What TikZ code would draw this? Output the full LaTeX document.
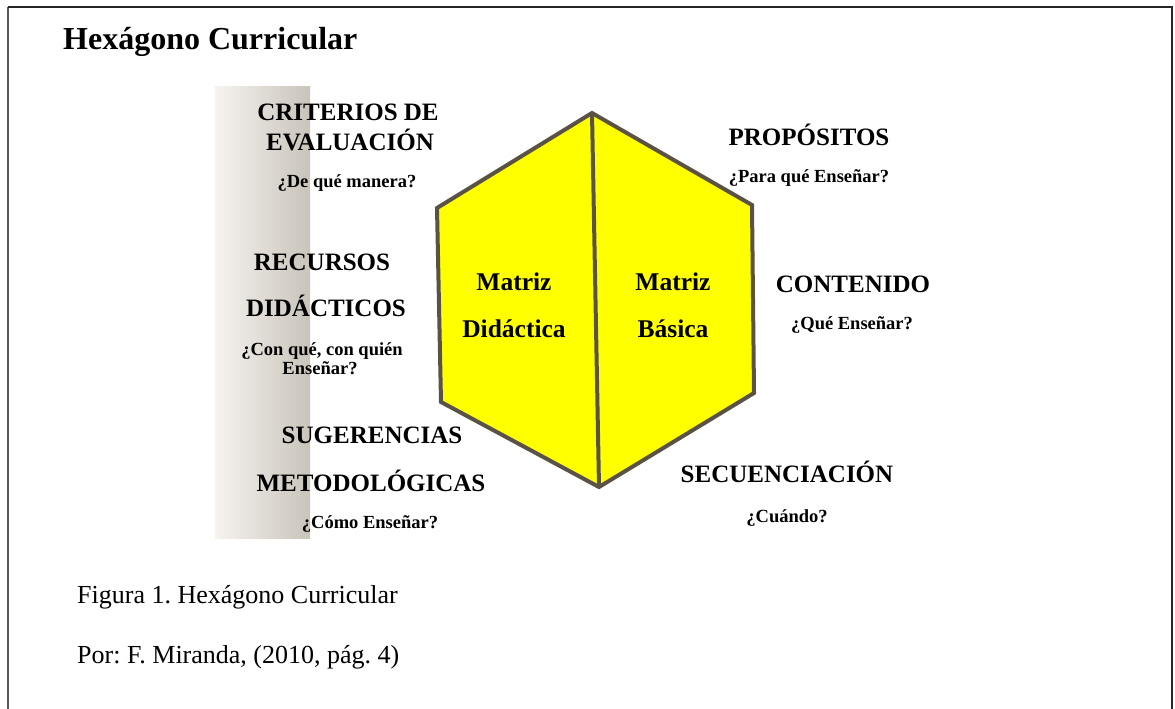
\documentclass[tikz,border=0pt]{standalone}
\usepackage{fontspec}
\setmainfont{Liberation Serif}
\frenchspacing
\begin{document}
\begin{tikzpicture}[x=1pt,y=-1pt,
  caplabel/.style={font=\fontsize{25}{25}\selectfont\bfseries, inner sep=0pt, anchor=base},
  ques/.style={font=\fontsize{18.5}{18.5}\selectfont\bfseries, inner sep=0pt, anchor=base},
  mat/.style={font=\fontsize{25.5}{25.5}\selectfont\bfseries, inner sep=0pt, anchor=base},
  capt/.style={font=\fontsize{26}{26}\selectfont, inner sep=0pt, anchor=base west},
  hexline/.style={draw=hexbrown, line width=4pt, line join=miter}]
\definecolor{hexbrown}{HTML}{5A5244}
\definecolor{hexyellow}{HTML}{FFFF00}
\definecolor{stripL}{HTML}{F6F4F0}
\definecolor{stripR}{HTML}{C9C4BA}
\useasboundingbox (0,0) rectangle (1175,709);
% frame
\coordinate (fbl) at (8,712);
\coordinate (ftl) at (8,7);
\coordinate (ftr) at (1172,7);
\coordinate (fbr) at (1172,712);
\draw[line width=2pt, draw=black!65] (fbl) -- (ftl);
\draw[line width=2pt, draw=black!85] (ftl) -- (ftr) -- (fbr);
% title
\node[font=\fontsize{32}{32}\selectfont\bfseries, inner sep=0pt, anchor=base west] (title) at (63,50) {Hexágono Curricular};
% gradient strip
\shade[left color=stripL, right color=stripR] (215,86) rectangle (310,538);
% hexagon
\coordinate (ht) at (592,113);
\coordinate (hur) at (752,205);
\coordinate (hlr) at (754,393);
\coordinate (hb) at (599,487);
\coordinate (hll) at (441,402);
\coordinate (hul) at (437,208);
\filldraw[hexline, fill=hexyellow] (ht) -- (hur) -- (hlr) -- (hb) -- (hll) -- (hul) -- cycle;
\draw[hexline] (ht) -- (hb);
% inner labels
\node[mat] (m1) at (514,290) {Matriz};
\node[mat] (m2) at (514,337) {Didáctica};
\node[mat] (m3) at (673,290) {Matriz};
\node[mat] (m4) at (673,337) {Básica};
% left labels
\node[caplabel] (crit1) at (348,120) {CRITERIOS DE};
\node[caplabel] (crit2) at (350,150) {EVALUACIÓN};
\node[ques] (critq) at (347,187) {¿De qué manera?};
\node[caplabel] (rec1) at (322,270) {RECURSOS};
\node[caplabel] (rec2) at (326,316) {DIDÁCTICOS};
\node[ques] (recq1) at (322,355) {¿Con qué, con quién};
\node[ques] (recq2) at (320,374) {Enseñar?};
\node[caplabel] (sug1) at (372,443) {SUGERENCIAS};
\node[caplabel] (sug2) at (371,491) {METODOLÓGICAS};
\node[ques] (sugq) at (370,528) {¿Cómo Enseñar?};
% right labels
\node[caplabel] (prop) at (809,145) {PROPÓSITOS};
\node[ques] (propq) at (809,182) {¿Para qué Enseñar?};
\node[caplabel] (cont) at (853,292) {CONTENIDO};
\node[ques] (contq) at (852,329) {¿Qué Enseñar?};
\node[caplabel] (sec) at (787,482) {SECUENCIACIÓN};
\node[ques] (secq) at (787,522) {¿Cuándo?};
% caption
\node[capt] (fig) at (77,603) {Figura 1. Hexágono Curricular};
\node[capt] (por) at (77,663) {Por: F. Miranda, (2010, pág. 4)};
\end{tikzpicture}
\end{document}
